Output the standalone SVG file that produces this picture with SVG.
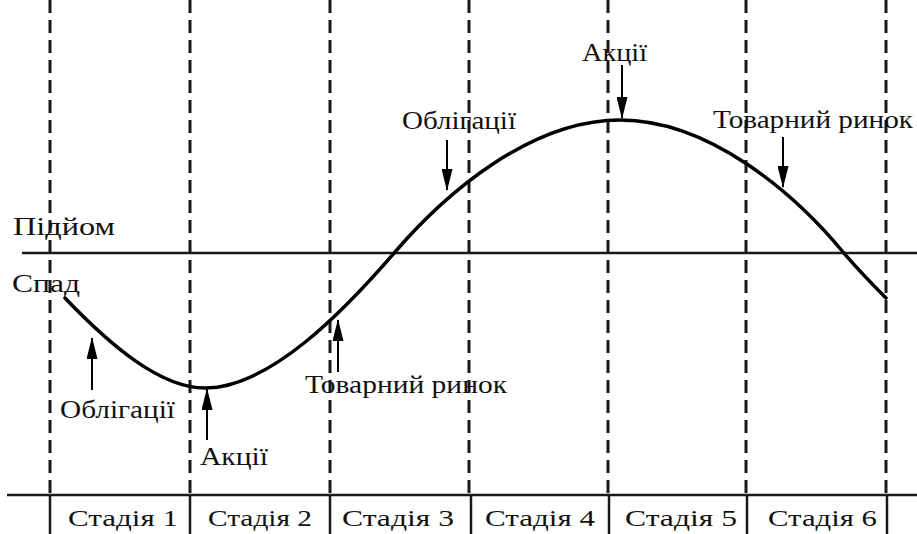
<svg xmlns="http://www.w3.org/2000/svg" width="917" height="534" viewBox="0 0 917 534">
<style>
.dash{stroke:#1a1a1a;stroke-width:3;stroke-dasharray:13 7;fill:none}
.solid{stroke:#1a1a1a;stroke-width:2.5;fill:none}
.curve{stroke:#000;stroke-width:3.5;fill:none;stroke-linecap:round}
.arr{stroke:#000;stroke-width:2;fill:none}
.lbl{font-family:"Liberation Serif","Times New Roman",serif;font-size:26px;fill:#111}
.stg{font-family:"Liberation Serif","Times New Roman",serif;font-size:23px;fill:#111}
</style>
<defs>
<marker id="ah" viewBox="0 0 22 11" refX="21" refY="5.5" markerWidth="22" markerHeight="11" markerUnits="userSpaceOnUse" orient="auto">
<path d="M0,0 L22,5.5 L0,11 Z" fill="#000"/>
</marker>
</defs>
<rect width="917" height="534" fill="#fff"/>
<g id="grid">
<line class="dash" x1="50" y1="0" x2="50" y2="495"/>
<line class="dash" x1="190" y1="0" x2="190" y2="495"/>
<line class="dash" x1="330" y1="0" x2="330" y2="495"/>
<line class="dash" x1="469" y1="0" x2="469" y2="495"/>
<line class="dash" x1="608" y1="0" x2="608" y2="495"/>
<line class="dash" x1="746" y1="0" x2="746" y2="495"/>
<line class="dash" x1="886" y1="0" x2="886" y2="495"/>
<line class="solid" x1="22" y1="253" x2="917" y2="253"/>
<line class="solid" x1="7" y1="495" x2="917" y2="495"/>
<line class="solid" x1="50" y1="495" x2="50" y2="534"/>
<line class="solid" x1="190" y1="495" x2="190" y2="534"/>
<line class="solid" x1="330" y1="495" x2="330" y2="534"/>
<line class="solid" x1="471" y1="495" x2="471" y2="534"/>
<line class="solid" x1="609" y1="495" x2="609" y2="534"/>
<line class="solid" x1="747" y1="495" x2="747" y2="534"/>
<line class="solid" x1="887" y1="495" x2="887" y2="534"/>
</g>
<g id="cycle">
<path class="curve" d="M65,298 C110,345 160,388 205,388 C270,388 345,310 395,252 C445,194 530,120 620,120 C710,120 795,194 843,252 C860,272 873,285 886,298"/>
</g>
<g id="connectors">
<line class="arr" x1="92" y1="390" x2="92" y2="338" marker-end="url(#ah)"/>
<line class="arr" x1="207" y1="440" x2="207" y2="389" marker-end="url(#ah)"/>
<line class="arr" x1="338" y1="372" x2="338" y2="320" marker-end="url(#ah)"/>
<line class="arr" x1="447" y1="140" x2="447" y2="190" marker-end="url(#ah)"/>
<line class="arr" x1="622" y1="65" x2="622" y2="118" marker-end="url(#ah)"/>
<line class="arr" x1="783" y1="137" x2="783" y2="187" marker-end="url(#ah)"/>
</g>
<g id="labels">
<text class="lbl" x="13" y="235" textLength="102" lengthAdjust="spacingAndGlyphs">Підйом</text>
<text class="lbl" x="12" y="292" textLength="68" lengthAdjust="spacingAndGlyphs">Спад</text>
<text class="lbl" x="60" y="418" textLength="115" lengthAdjust="spacingAndGlyphs">Облігації</text>
<text class="lbl" x="200" y="465" textLength="68" lengthAdjust="spacingAndGlyphs">Акції</text>
<text class="lbl" x="305" y="393" textLength="202" lengthAdjust="spacingAndGlyphs">Товарний ринок</text>
<text class="lbl" x="402" y="129" textLength="114" lengthAdjust="spacingAndGlyphs">Облігації</text>
<text class="lbl" x="582" y="61" textLength="65" lengthAdjust="spacingAndGlyphs">Акції</text>
<text class="lbl" x="713" y="128" textLength="200" lengthAdjust="spacingAndGlyphs">Товарний ринок</text>
</g>
<g id="stages">
<text class="stg" x="68" y="526" textLength="110" lengthAdjust="spacingAndGlyphs">Стадія 1</text>
<text class="stg" x="208" y="526" textLength="104" lengthAdjust="spacingAndGlyphs">Стадія 2</text>
<text class="stg" x="342" y="526" textLength="112" lengthAdjust="spacingAndGlyphs">Стадія 3</text>
<text class="stg" x="485" y="526" textLength="110" lengthAdjust="spacingAndGlyphs">Стадія 4</text>
<text class="stg" x="625" y="526" textLength="112" lengthAdjust="spacingAndGlyphs">Стадія 5</text>
<text class="stg" x="768" y="526" textLength="109" lengthAdjust="spacingAndGlyphs">Стадія 6</text>
</g>
</svg>
